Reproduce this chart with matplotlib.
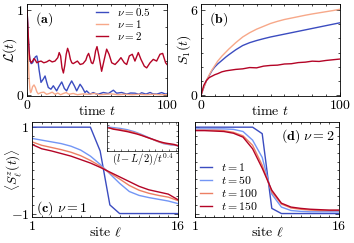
import numpy as np
import matplotlib
matplotlib.use('Agg')
from matplotlib import pyplot as plt
from matplotlib.ticker import MultipleLocator

plt.rcParams['font.family'] = 'serif'
plt.rcParams['font.serif'] = ['cmr10', 'DejaVu Serif']
plt.rcParams['mathtext.fontset'] = 'cm'
plt.rcParams['axes.unicode_minus'] = False
plt.rcParams['axes.linewidth'] = 0.6

# ---- panel (a): L(t) ----
t_a_half = [0, 0.5, 1, 1.5, 2, 3, 4, 5, 6, 7, 8, 8.6, 10, 11.7, 12.9, 14.1, 15.2, 17.1, 18.8,
            21.2, 22.4, 24.8, 26.7, 28.3, 30, 31.9, 33.8, 35.5, 37.9, 39.5, 41.4, 42.6, 45,
            47.4, 49.8, 51, 54.5, 58.1, 61.7, 64, 67.6, 71.2, 74, 77.1, 80, 81.9, 85, 87.9,
            90, 92.6, 96.2, 99, 100]
L_half = [1.0, 0.85, 0.65, 0.5, 0.42, 0.37, 0.38, 0.42, 0.45, 0.46, 0.38, 0.30, 0.15, 0.19,
          0.225, 0.15, 0.09, 0.07, 0.11, 0.05, 0.09, 0.155, 0.078, 0.05, 0.11, 0.167, 0.11,
          0.05, 0.128, 0.09, 0.031, 0.05, 0.012, 0.03, 0.012, 0.012, 0.031, 0.019, 0.058,
          0.023, 0.031, 0.012, 0.025, 0.023, 0.01, 0.028, 0.012, 0.031, 0.015, 0.012, 0.03,
          0.012, 0.015]

t_a_one = [0, 0.5, 1, 1.5, 2, 2.5, 3, 4, 5, 6, 7, 8, 10, 12, 14, 16, 18, 20, 22, 24, 26, 28,
           30, 33, 36, 40, 44, 48, 52, 56, 60, 65, 70, 75, 80, 85, 90, 95, 100]
L_one = [1.0, 0.7, 0.4, 0.2, 0.08, 0.03, 0.04, 0.1, 0.12, 0.09, 0.04, 0.015, 0.03, 0.035,
         0.01, 0.02, 0.035, 0.01, 0.025, 0.005, 0.02, 0.03, 0.01, 0.02, 0.005, 0.015, 0.01,
         0.02, 0.005, 0.01, 0.015, 0.005, 0.01, 0.005, 0.01, 0.005, 0.01, 0.005, 0.005]

t_a_two = [0, 0.5, 1, 1.5, 2, 3, 4, 5, 6, 7, 8, 10, 12, 14, 16, 18, 20, 22, 23, 24, 25, 26,
           27, 28, 29, 30, 31, 32, 33, 34, 36, 38, 40, 42, 43, 44, 45, 46, 47, 48, 49, 50,
           51.4, 53.3, 55.2, 56.9, 58.6, 60.5, 62.9, 65.2, 67.1, 69.5, 71.2, 73.1, 75.2,
           77.1, 79.5, 81.4, 83.8, 85.5, 87.9, 90.2, 92.6, 95, 96.9, 99, 100]
L_two = [1.0, 0.85, 0.67, 0.52, 0.42, 0.38, 0.40, 0.43, 0.41, 0.38, 0.39, 0.40, 0.38, 0.39,
         0.41, 0.39, 0.40, 0.44, 0.50, 0.46, 0.32, 0.26, 0.35, 0.48, 0.55, 0.50, 0.42, 0.38,
         0.37, 0.38, 0.40, 0.36, 0.37, 0.41, 0.46, 0.49, 0.44, 0.38, 0.37, 0.42, 0.52, 0.57,
         0.46, 0.28, 0.42, 0.54, 0.48, 0.38, 0.36, 0.40, 0.44, 0.38, 0.36, 0.46, 0.48, 0.40,
         0.50, 0.42, 0.34, 0.32, 0.38, 0.42, 0.40, 0.48, 0.49, 0.38, 0.36]

# ---- panel (b): S_1(t) ----
t_b = [0, 2, 4, 6, 8, 10, 12, 15, 18, 20, 25, 30, 35, 40, 45, 50, 55, 60, 65, 70, 75, 80,
       85, 90, 95, 100]
S_half = [0, 0.55, 1.05, 1.4, 1.75, 2.0, 2.2, 2.45, 2.7, 2.85, 3.2, 3.5, 3.7, 3.85, 3.98,
          4.1, 4.2, 4.3, 4.4, 4.5, 4.6, 4.7, 4.8, 4.9, 5.0, 5.1]
S_one = [0, 0.55, 1.05, 1.45, 1.8, 2.1, 2.4, 2.75, 3.05, 3.25, 3.7, 4.1, 4.4, 4.65, 4.85,
         5.05, 5.2, 5.33, 5.43, 5.53, 5.63, 5.72, 5.8, 5.88, 5.96, 6.05]
S_two = [0, 0.7, 1.05, 1.25, 1.35, 1.45, 1.52, 1.65, 1.72, 1.75, 1.82, 1.86, 1.95, 1.93,
         2.05, 2.1, 2.12, 2.2, 2.22, 2.3, 2.33, 2.4, 2.38, 2.45, 2.5, 2.55]

# ---- panels (c), (d): <S^z_l(t)> ----
sites = np.arange(1, 17)
c_t1 = [1, 1, 1, 1, 1, 1, 1, 0.45, -0.8, -1, -1, -1, -1, -1, -1, -1]
c_t50 = [0.74, 0.70, 0.66, 0.62, 0.56, 0.47, 0.33, 0.14, -0.08, -0.3, -0.49, -0.58, -0.63,
         -0.67, -0.71, -0.77]
c_t100 = [0.66, 0.58, 0.53, 0.48, 0.42, 0.34, 0.23, 0.10, -0.06, -0.2, -0.35, -0.46, -0.53,
          -0.58, -0.62, -0.70]
c_t150 = [0.60, 0.50, 0.45, 0.39, 0.33, 0.25, 0.17, 0.07, -0.04, -0.15, -0.26, -0.37, -0.45,
          -0.50, -0.55, -0.68]

d_t1 = [1, 1, 1, 1, 1, 1, 1, 0.85, -0.88, -1, -1, -1, -1, -1, -1, -1]
d_t50 = [0.96, 0.96, 0.96, 0.96, 0.95, 0.9, 0.7, 0.3, -0.55, -0.85, -0.93, -0.95, -0.96,
         -0.96, -0.96, -0.96]
d_t100 = [0.93, 0.93, 0.93, 0.92, 0.88, 0.8, 0.58, 0.12, -0.5, -0.78, -0.87, -0.9, -0.92,
          -0.93, -0.93, -0.93]
d_t150 = [0.92, 0.92, 0.91, 0.9, 0.86, 0.77, 0.5, 0.05, -0.46, -0.76, -0.85, -0.88, -0.9,
          -0.91, -0.92, -0.92]
times = [1, 50, 100, 150]

c_blue = '#3b4cc0'
c_lblue = '#7396f5'
c_lsalmon = '#f7a889'
c_salmon = '#ec7f63'
c_red = '#b40426'

W, H = 354, 243


def rect(l, t, r, b):
    return [l / W, 1 - b / H, (r - l) / W, (b - t) / H]


def style(ax, xminor, yminor):
    ax.xaxis.set_minor_locator(MultipleLocator(xminor))
    ax.yaxis.set_minor_locator(MultipleLocator(yminor))
    ax.tick_params(which='both', direction='in', top=True, right=True, labelsize=10, pad=2,
                   width=0.5)
    ax.tick_params(which='major', length=3)
    ax.tick_params(which='minor', length=1.6)


fig = plt.figure(figsize=(3.54, 2.43), dpi=100)
lw = 1.0

# (a)
axa = fig.add_axes(rect(27, 4, 167, 96))
axa.plot(t_a_half, L_half, color=c_blue, lw=lw, label=r'$\nu=0.5$')
axa.plot(t_a_one, L_one, color=c_lsalmon, lw=lw, label=r'$\nu=1$')
axa.plot(t_a_two, L_two, color=c_red, lw=lw, label=r'$\nu=2$')
axa.set_xlim(0, 100)
axa.set_ylim(-0.01, 1.07)
axa.set_xticks([0, 100])
axa.set_xticklabels([r'$0$', r'$100$'])
axa.set_yticks([0, 1])
axa.set_yticklabels([r'$0$', r'$1$'])
style(axa, 10, 0.2)
axa.set_xlabel(r'time $t$', fontsize=10, labelpad=-5)
axa.set_ylabel(r'$\mathcal{L}(t)$', fontsize=10, labelpad=-2)
axa.text(0.06, 0.93, r'$\mathbf{(a)}$', transform=axa.transAxes, fontsize=10, va='top')
axa.legend(loc='upper right', bbox_to_anchor=(0.9, 1.0), frameon=False, fontsize=8,
           labelspacing=0.0, handlelength=1.1, handletextpad=0.8, borderaxespad=0.1,
           borderpad=0.1)

# (b)
axb = fig.add_axes(rect(201, 4, 340, 96))
axb.plot(t_b, S_half, color=c_blue, lw=lw)
axb.plot(t_b, S_one, color=c_lsalmon, lw=lw)
axb.plot(t_b, S_two, color=c_red, lw=lw)
axb.set_xlim(0, 100)
axb.set_ylim(-0.05, 6.42)
axb.set_xticks([0, 100])
axb.set_xticklabels([r'$0$', r'$100$'])
axb.set_yticks([0, 6])
axb.set_yticklabels([r'$0$', r'$6$'])
style(axb, 10, 1)
axb.set_xlabel(r'time $t$', fontsize=10, labelpad=-5)
axb.set_ylabel(r'$S_1(t)$', fontsize=10, labelpad=-2)
axb.text(0.06, 0.93, r'$\mathbf{(b)}$', transform=axb.transAxes, fontsize=10, va='top')

# (c)
axc = fig.add_axes(rect(32, 122, 178, 217))
cols = [c_blue, c_lblue, c_salmon, c_red]
for vals, col in zip([c_t1, c_t50, c_t100, c_t150], cols):
    axc.plot(sites, vals, color=col, lw=lw)
axc.set_xlim(1, 16)
axc.set_ylim(-1.08, 1.12)
axc.set_xticks([1, 16])
axc.set_xticklabels([r'$1$', r'$16$'])
axc.set_yticks([-1, 1])
axc.set_yticklabels([r'$-1$', r'$1$'])
style(axc, 1, 0.2)
axc.set_xlabel(r'site $\ell$', fontsize=10, labelpad=-5)
axc.set_ylabel(r'$\langle S^z_\ell(t)\rangle$', fontsize=9.5)
axc.yaxis.set_label_coords(-0.055, 0.5)
axc.text(0.03, 0.06, r'$\mathbf{(c)}\ \nu=1$', transform=axc.transAxes, fontsize=10)

# inset of (c)
axi = fig.add_axes(rect(107, 122, 178, 151))
for vals, col, tt in zip([c_t50, c_t100, c_t150], cols[1:], times[1:]):
    axi.plot((sites - 8) / tt ** 0.4, vals, color=col, lw=lw)
axi.set_xlim(-1.0, 1.05)
axi.set_ylim(-1.0, 1.0)
axi.set_xticks([])
axi.set_yticks([])
axi.xaxis.set_minor_locator(MultipleLocator(0.2))
axi.yaxis.set_minor_locator(MultipleLocator(0.4))
axi.tick_params(which='minor', direction='in', top=True, right=True, length=1.5,
                width=0.4, labelbottom=False, labelleft=False)
for s in axi.spines.values():
    s.set_linewidth(0.5)
axi.set_xlabel(r'$(l-L/2)/t^{0.4}$', fontsize=7.5, labelpad=0)

# (d)
axd = fig.add_axes(rect(195, 122, 339, 217))
for vals, col, tt in zip([d_t1, d_t50, d_t100, d_t150], cols, times):
    axd.plot(sites, vals, color=col, lw=lw, label=r'$t=%d$' % tt)
axd.set_xlim(1, 16)
axd.set_ylim(-1.08, 1.12)
axd.set_xticks([1, 16])
axd.set_xticklabels([r'$1$', r'$16$'])
axd.set_yticks([-1, 1])
axd.set_yticklabels([])
style(axd, 1, 0.2)
axd.set_xlabel(r'site $\ell$', fontsize=10, labelpad=-5)
axd.text(0.97, 0.94, r'$\mathbf{(d)}\ \nu=2$', transform=axd.transAxes, fontsize=10,
         ha='right', va='top')
axd.legend(loc='lower left', frameon=False, fontsize=8.5, labelspacing=0.1,
           handlelength=1.0, handletextpad=0.8, borderaxespad=0.2, borderpad=0.2)

fig.savefig('out.png', dpi=100)
